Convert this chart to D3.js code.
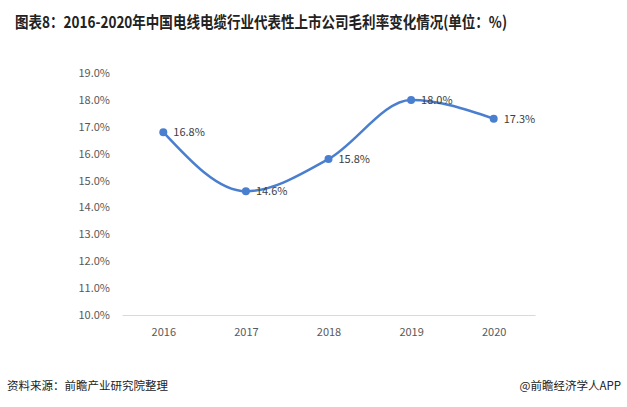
<!DOCTYPE html>
<html>
<head>
<meta charset="utf-8">
<script src="https://cdn.jsdelivr.net/npm/d3@7"></script>
<style>
  body { margin: 0; background: #fff; }
  svg { display: block; }
</style>
</head>
<body>
<div id="chart"></div>
<script>
const years = ["2016", "2017", "2018", "2019", "2020"];
const margins = [16.8, 14.6, 15.8, 18.0, 17.3];
const yTicks = [10, 11, 12, 13, 14, 15, 16, 17, 18, 19];

const title = "图表8：2016-2020年中国电线电缆行业代表性上市公司毛利率变化情况(单位：%)";
const source = "资料来源：前瞻产业研究院整理";
const credit = "@前瞻经济学人APP";

const width = 627, height = 407;
const font = "'Noto Sans CJK SC', 'Noto Sans', sans-serif";

let svg = d3.select("#chart").append("svg")
  .attr("width", width)
  .attr("height", height);

svg.append("text")
  .attr("x", 15)
  .attr("y", 28)
  .attr("font-family", font)
  .attr("font-weight", "bold")
  .attr("font-size", 16)
  .attr("fill", "#222")
  .attr("textLength", 492)
  .attr("lengthAdjust", "spacingAndGlyphs")
  .text(title);

let x = d3.scalePoint().domain(years).range([122, 535]).padding(0.5);
let y = d3.scaleLinear().domain([10, 19]).range([315, 73]);

// y tick labels (no axis line)
svg.append("g")
  .attr("transform", "translate(110,0)")
  .call(d3.axisLeft(y).tickValues(yTicks).tickSize(0).tickPadding(0)
    .tickFormat((d) => d.toFixed(1) + "%"))
  .call((g) => g.select(".domain").remove())
  .selectAll("text")
  .attr("font-family", font)
  .attr("font-size", 11)
  .attr("fill", "#595959");

// x axis
let xg = svg.append("g")
  .attr("transform", "translate(0,315)")
  .call(d3.axisBottom(x).tickSize(0).tickPadding(13));
xg.select(".domain").attr("stroke", "#d9d9d9").attr("stroke-width", 1);
xg.selectAll("text")
  .attr("font-family", font)
  .attr("font-size", 11)
  .attr("fill", "#595959");

let data = years.map((yr, i) => ({ year: yr, value: margins[i] }));

let line = d3.line()
  .x((d) => x(d.year))
  .y((d) => y(d.value))
  .curve(d3.curveMonotoneX);

svg.append("path")
  .datum(data)
  .attr("fill", "none")
  .attr("stroke", "#4a7fcf")
  .attr("stroke-width", 2.5)
  .attr("d", line);

svg.selectAll("circle.pt")
  .data(data)
  .join("circle")
  .attr("class", "pt")
  .attr("cx", (d) => x(d.year))
  .attr("cy", (d) => y(d.value))
  .attr("r", 4)
  .attr("fill", "#4a7fcf");

svg.selectAll("text.lbl")
  .data(data)
  .join("text")
  .attr("class", "lbl")
  .attr("x", (d) => x(d.year) + 10)
  .attr("y", (d) => y(d.value) + 4)
  .attr("font-family", font)
  .attr("font-size", 11)
  .attr("fill", "#404040")
  .text((d) => d.value.toFixed(1) + "%");

svg.append("text")
  .attr("x", 7)
  .attr("y", 390)
  .attr("font-family", font)
  .attr("font-size", 11.5)
  .attr("fill", "#222")
  .text(source);

svg.append("text")
  .attr("x", 621)
  .attr("y", 390)
  .attr("text-anchor", "end")
  .attr("font-family", font)
  .attr("font-size", 11.5)
  .attr("fill", "#222")
  .text(credit);
</script>
</body>
</html>
